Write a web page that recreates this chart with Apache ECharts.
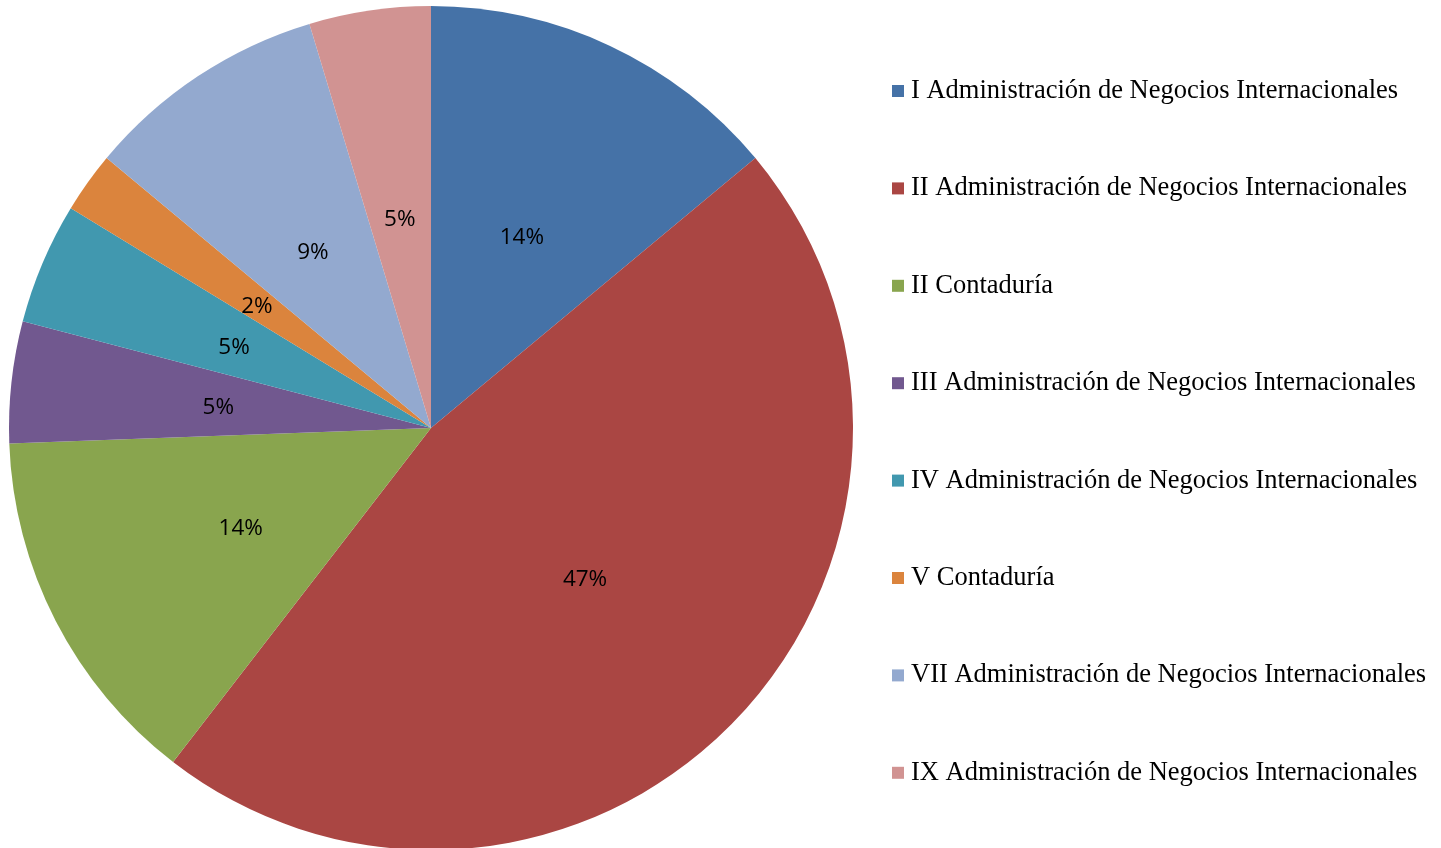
<!DOCTYPE html>
<html>
<head>
<meta charset="utf-8">
<script src="https://cdn.jsdelivr.net/npm/echarts@6/dist/echarts.min.js"></script>
<style>
  html, body { margin: 0; padding: 0; background: #fff; }
  #chart { width: 1441px; height: 848px; }
</style>
</head>
<body>
<div id="chart"></div>
<script>
// 各學期的學生人數
const categories = [
  'I Administración de Negocios Internacionales',
  'II Administración de Negocios Internacionales',
  'II Contaduría',
  'III Administración de Negocios Internacionales',
  'IV Administración de Negocios Internacionales',
  'V Contaduría',
  'VII Administración de Negocios Internacionales',
  'IX Administración de Negocios Internacionales'
];
const values = [6, 20, 6, 2, 2, 1, 4, 2];
const colors = ['#4572A7', '#AA4643', '#89A54E', '#71588F', '#4198AF', '#DB843D', '#93A9CF', '#D19392'];

const total = values.reduce((a, b) => a + b, 0);

const chart = echarts.init(document.getElementById('chart'));

const options = {
  color: colors,
  animation: false,
  legend: {
    orient: 'vertical',
    left: 892,
    top: 77,
    padding: 0,
    itemWidth: 12,
    itemHeight: 12,
    itemGap: 69.4,
    icon: 'rect',
    textStyle: {
      fontFamily: 'Liberation Serif',
      fontSize: 26.5,
      lineHeight: 28,
      color: '#000',
      padding: [0, 0, 0, 2]
    },
    data: categories
  },
  series: [
    {
      type: 'pie',
      center: [431, 428],
      radius: 422,
      startAngle: 90,
      clockwise: true,
      itemStyle: { borderWidth: 0 },
      label: {
        show: true,
        position: 'inside',
        // 每片各自四捨五入，跟原圖一樣 (47% 而不是 46%)
        formatter: p => Math.round(p.value / total * 100) + '%',
        fontFamily: 'Open Sans',
        fontSize: 22.5,
        color: '#000',
        offset: [0, 3]
      },
      labelLine: { show: false },
      data: categories.map((name, i) => ({ name, value: values[i] }))
    }
  ]
};

chart.setOption(options);
</script>
</body>
</html>
